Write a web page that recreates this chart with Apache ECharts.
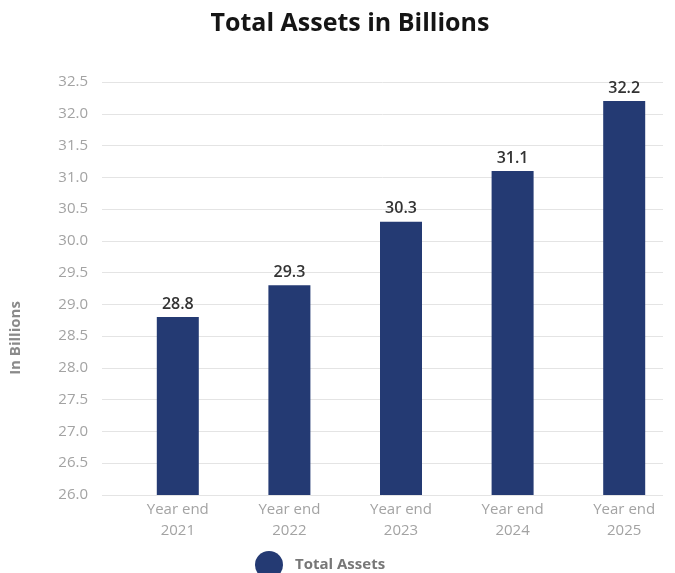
<!DOCTYPE html>
<html>
<head>
<meta charset="utf-8">
<script src="https://cdn.jsdelivr.net/npm/echarts@6/dist/echarts.min.js"></script>
<style>
  html, body { margin: 0; padding: 0; background: #ffffff; }
  #chart { width: 675px; height: 573px; }
</style>
</head>
<body>
<div id="chart"></div>
<script>
// Total assets at each year end, in billions
const categories = ['Year end 2021', 'Year end 2022', 'Year end 2023', 'Year end 2024', 'Year end 2025'];
const totalAssets = [28.8, 29.3, 30.3, 31.1, 32.2];
const yMin = 26;
const yMax = 32.5;
const yStep = 0.5;

const FONT = '"Open Sans", sans-serif';
const BAR_COLOR = '#243a73';

const chart = echarts.init(document.getElementById('chart'), null, { renderer: 'canvas' });

chart.setOption({
  backgroundColor: '#ffffff',
  animation: false,
  title: {
    text: 'Total Assets in Billions',
    left: 345,
    textAlign: 'center',
    top: 6,
    textStyle: { fontFamily: FONT, fontSize: 25, fontWeight: 'bold', color: '#151515' }
  },
  legend: {
    data: ['Total Assets'],
    left: 250,
    top: 546,
    icon: 'circle',
    itemWidth: 28,
    itemHeight: 28,
    selectedMode: false,
    textStyle: { fontFamily: FONT, fontSize: 15, fontWeight: 'bold', color: '#777777', padding: [0, 0, 0, 7] }
  },
  graphic: [{
    type: 'text',
    x: 16,
    y: 338,
    rotation: Math.PI / 2,
    style: {
      text: 'In Billions',
      fontFamily: FONT,
      fontSize: 15,
      fontWeight: 'bold',
      fill: '#8a8a8a',
      align: 'center',
      verticalAlign: 'middle'
    }
  }],
  // grid 0 carries the value scale and its gridlines; grid 1 carries the bars
  grid: [
    { left: 102, right: 12, top: 82, bottom: 78, outerBoundsMode: 'none' },
    { left: 122, width: 558, top: 82, bottom: 78, outerBoundsMode: 'none' }
  ],
  xAxis: [
    {
      type: 'category',
      gridIndex: 0,
      data: categories,
      axisLine: { show: false },
      axisTick: { show: false },
      axisLabel: { show: false }
    },
    {
      type: 'category',
      gridIndex: 1,
      data: categories,
      axisLine: { show: false },
      axisTick: { show: false },
      axisLabel: {
        margin: 4,
        fontFamily: FONT,
        fontSize: 15,
        lineHeight: 21,
        color: '#a3a3a3',
        formatter: (v) => v.replace(/ (\d{4})$/, '\n$1')
      }
    }
  ],
  yAxis: [
    {
      type: 'value',
      gridIndex: 0,
      min: yMin,
      max: yMax,
      interval: yStep,
      axisLine: { show: false },
      axisTick: { show: false },
      splitLine: { lineStyle: { color: '#e4e4e4', width: 1 } },
      axisLabel: {
        margin: 14,
        fontFamily: FONT,
        fontSize: 15,
        color: '#a3a3a3',
        formatter: (v) => v.toFixed(1)
      }
    },
    {
      type: 'value',
      gridIndex: 1,
      min: yMin,
      max: yMax,
      interval: yStep,
      show: false
    }
  ],
  series: [{
    name: 'Total Assets',
    type: 'bar',
    xAxisIndex: 1,
    yAxisIndex: 1,
    data: totalAssets,
    barWidth: 42,
    itemStyle: { color: BAR_COLOR },
    label: {
      show: true,
      position: 'top',
      distance: 5,
      fontFamily: FONT,
      fontSize: 16,
      fontWeight: 600,
      color: '#333333',
      formatter: (p) => p.value.toFixed(1)
    }
  }]
});
</script>
</body>
</html>
